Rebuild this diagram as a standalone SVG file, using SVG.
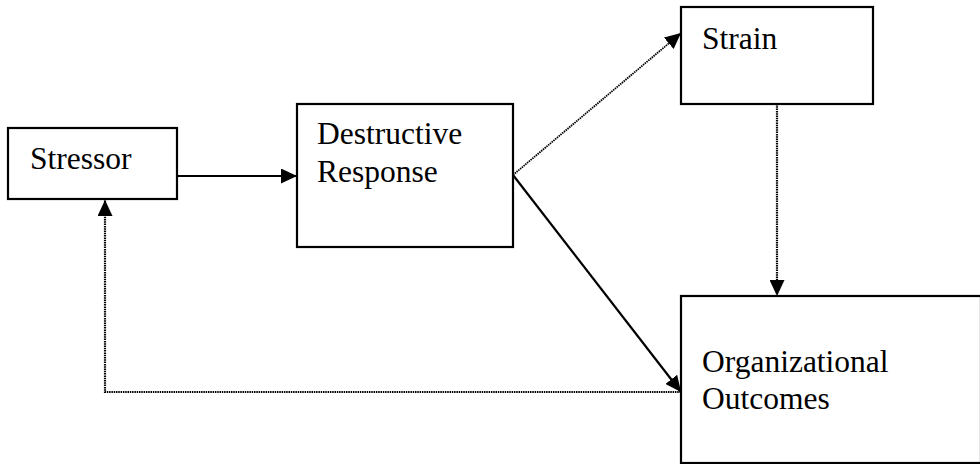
<svg xmlns="http://www.w3.org/2000/svg" width="980" height="464" viewBox="0 0 980 464">
  <style>
    .box { fill: #fff; stroke: #000; stroke-width: 2.2; }
    .lbl { font-family: "Liberation Serif", "Times New Roman", serif; font-size: 31.5px; fill: #000; }
    .solid { fill: none; stroke: #000; stroke-width: 2.2; }
    .dotted { fill: none; stroke: #000; stroke-width: 2.2; stroke-dasharray: 1.5 0.8; }
    .dotted-thin { fill: none; stroke: #000; stroke-width: 1.8; stroke-dasharray: 1.5 0.8; }
  </style>
  <defs>
    <marker id="arrow" markerUnits="userSpaceOnUse" markerWidth="16" markerHeight="15" refX="16" refY="7.5" orient="auto">
      <path d="M0,0 L16,7.5 L0,15 z" fill="#000"/>
    </marker>
  </defs>

  <rect width="980" height="464" fill="#fff"/>

  <!-- connectors -->
  <g id="connectors">
    <line class="solid" x1="177" y1="176" x2="297" y2="176" marker-end="url(#arrow)"/>
    <line class="dotted-thin" x1="513" y1="175" x2="681" y2="33" marker-end="url(#arrow)"/>
    <line class="solid" x1="513" y1="175" x2="681" y2="392" marker-end="url(#arrow)"/>
    <line class="dotted" x1="777" y1="104" x2="777" y2="296" marker-end="url(#arrow)"/>
    <polyline class="dotted" points="681,392 105,392 105,200" marker-end="url(#arrow)"/>
  </g>

  <!-- nodes -->
  <g id="stressor">
    <rect class="box" x="8" y="128" width="169" height="71"/>
    <text class="lbl" x="30" y="169">Stressor</text>
  </g>

  <g id="destructive-response">
    <rect class="box" x="297" y="104" width="216" height="143"/>
    <text class="lbl" x="317" y="144">Destructive</text>
    <text class="lbl" x="317" y="182">Response</text>
  </g>

  <g id="strain">
    <rect class="box" x="681" y="7" width="192" height="97"/>
    <text class="lbl" x="702" y="49">Strain</text>
  </g>

  <g id="organizational-outcomes">
    <rect class="box" x="681" y="296" width="300" height="167"/>
    <text class="lbl" x="702" y="372">Organizational</text>
    <text class="lbl" x="702" y="409">Outcomes</text>
  </g>
</svg>
